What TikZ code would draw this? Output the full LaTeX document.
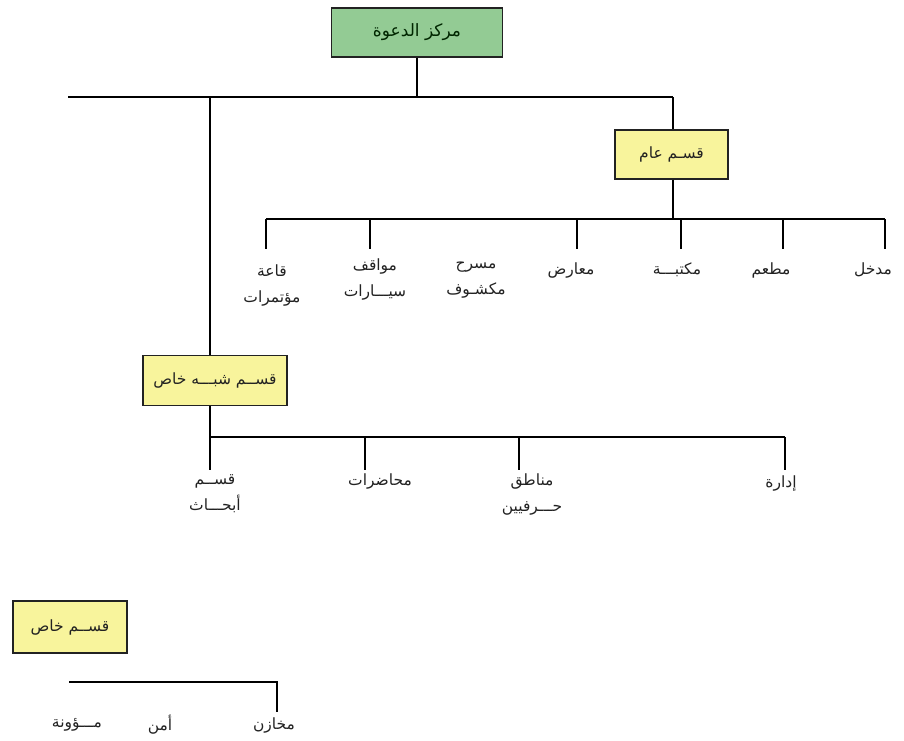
\documentclass[tikz,border=0pt]{standalone}
\usepackage{fontspec}
\newfontfamily\arabicfont[Script=Arabic]{DejaVu Sans}
\TeXXeTstate=1
\newcommand{\ar}[1]{{\arabicfont\beginR #1\endR}}
\definecolor{boxgreen}{HTML}{93CB94}
\definecolor{boxyellow}{HTML}{F8F49C}
\definecolor{inkgray}{HTML}{222222}
\tikzset{
  boxbase/.style={draw=inkgray, line width=1.4pt, inner sep=0pt, text=inkgray,
    font=\arabicfont\fontsize{15.5}{17}\selectfont},
  rootbox/.style={boxbase, fill=boxgreen, text=black!75!green!60!black,
    font=\arabicfont\fontsize{17}{19}\selectfont},
  secbox/.style={boxbase, fill=boxyellow},
  conn/.style={draw=black, line width=1.1pt},
  lbl/.style={inner sep=0pt, align=center, text=inkgray,
    font=\arabicfont\fontsize{15.5}{26}\selectfont}
}
\begin{document}
\begin{tikzpicture}[x=1pt,y=-1pt]
\useasboundingbox (0,0) rectangle (904,740);

% boxes
\node[rootbox, minimum width=171pt, minimum height=49pt] (root) at (417,32.5) {\ar{مركز الدعوة}};
\node[secbox, minimum width=113pt, minimum height=49pt] (pub) at (671.5,154.5) {\ar{قسـم عام}};
\node[secbox, minimum width=144pt, minimum height=50pt] (semi) at (215,380.5) {\ar{قســم شبـــه خاص}};
\node[secbox, minimum width=114pt, minimum height=52pt] (priv) at (70,627) {\ar{قســم خاص}};

% top bus
\coordinate (b1L) at (68,97);
\coordinate (b1R) at (673,97);
\coordinate (b1S) at (210,97);
\draw[conn] (b1L) -- (b1R);
\draw[conn] (root.south) -- (root.south |- b1L);
\draw[conn] (b1R) -- (b1R |- pub.north);
\draw[conn] (b1S) -- (b1S |- semi.north);

% public section bus
\coordinate (p0) at (673,219);
\coordinate (pL) at (266,219);
\coordinate (pR) at (885,219);
\draw[conn] (p0 |- pub.south) -- (p0);
\draw[conn] (pL) -- (pR);
\foreach \i/\x in {1/266,2/370,3/577,4/681,5/783,6/885}{
  \coordinate (pt\i) at (\x,219);
  \coordinate (pe\i) at (\x,249);
  \draw[conn] (pt\i) -- (pe\i);
}

% public labels
\node[lbl] (l1) at (272,285) {\ar{قاعة}\\\ar{مؤتمرات}};
\node[lbl] (l2) at (375,279) {\ar{مواقف}\\\ar{سيـــارات}};
\node[lbl] (l3) at (476,280) {\ar{مسرح}\\\ar{مكشـوف}};
\node[lbl] (l4) at (571,270) {\ar{معارض}};
\node[lbl] (l5) at (677,270) {\ar{مكتبـــة}};
\node[lbl] (l6) at (771,270) {\ar{مطعم}};
\node[lbl] (l7) at (873,270) {\ar{مدخل}};

% semi-private bus
\coordinate (s0) at (210,437);
\coordinate (sR) at (785,437);
\draw[conn] (s0 |- semi.south) -- (s0);
\draw[conn] (s0) -- (sR);
\foreach \i/\x in {1/210,2/365,3/519,4/785}{
  \coordinate (st\i) at (\x,437);
  \coordinate (se\i) at (\x,470);
  \draw[conn] (st\i) -- (se\i);
}
\node[lbl] (m1) at (215,494) {\ar{قســم}\\\ar{أبحـــاث}};
\node[lbl] (m2) at (380,481) {\ar{محاضرات}};
\node[lbl] (m3) at (532,494) {\ar{مناطق}\\\ar{حـــرفيين}};
\node[lbl] (m4) at (781,483) {\ar{إدارة}};

% private bus
\coordinate (qL) at (69,682);
\coordinate (qR) at (277,682);
\coordinate (qE) at (277,712);
\draw[conn] (qL) -- (qR) -- (qE);
\node[lbl] (n1) at (274,725) {\ar{مخازن}};
\node[lbl] (n2) at (160,725) {\ar{أمن}};
\node[lbl] (n3) at (77,725) {\ar{مـــؤونة}};
\end{tikzpicture}
\end{document}
